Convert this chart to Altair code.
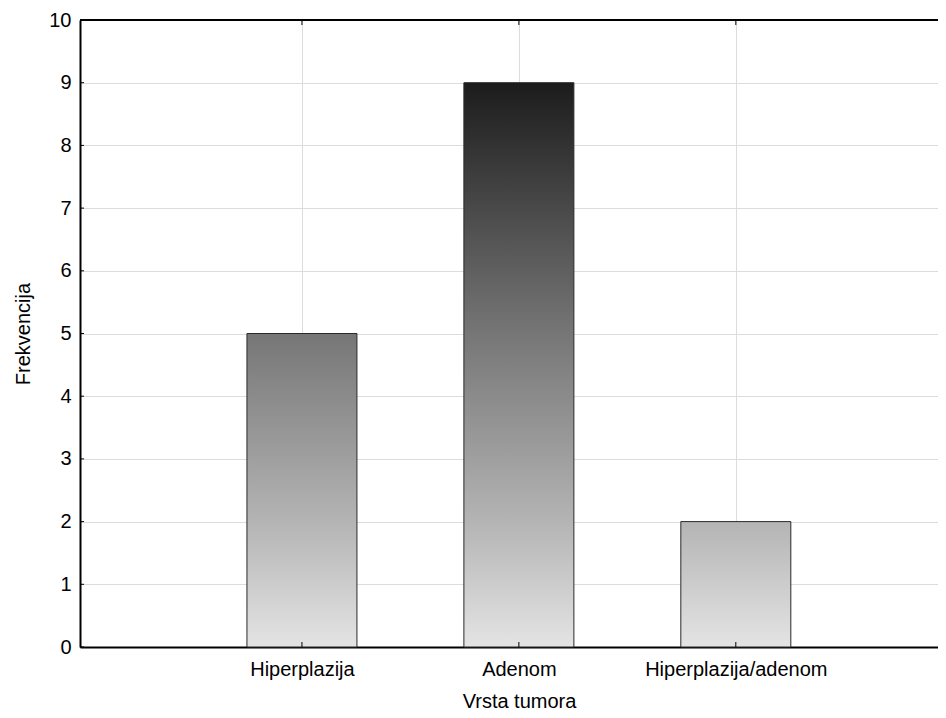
import json
import altair as alt
import pandas as pd

# ---- data ----
categories = ["Hiperplazija", "Adenom", "Hiperplazija/adenom"]
positions = [1, 2, 3]
frequencies = [5, 9, 2]
y_ticks = [0, 1, 2, 3, 4, 5, 6, 7, 8, 9, 10]

# gray ramp (absolute, shared by all bars): value -> gray level
ramp_values = [0, 2, 5, 9, 10]
ramp_grays = [228, 180, 118, 28, 12]

W, H = 858, 627
STEP = 219.5
FONT = "Liberation Sans"

df = pd.DataFrame({"cat": categories, "pos": positions, "freq": frequencies})
ticks_df = pd.DataFrame({"v": y_ticks})


def gray_at(v):
    for i in range(len(ramp_values) - 1):
        a, b = ramp_values[i], ramp_values[i + 1]
        if a <= v <= b:
            t = (v - a) / (b - a)
            g = ramp_grays[i] + t * (ramp_grays[i + 1] - ramp_grays[i])
            return int(round(g))
    return ramp_grays[-1]


def hexgray(g):
    return "#{0:02x}{0:02x}{0:02x}".format(g)


def gradient_for(v):
    stops = []
    for rv in ramp_values:
        if rv < v:
            stops.append(alt.GradientStop(offset=rv / v, color=hexgray(gray_at(rv))))
    stops.append(alt.GradientStop(offset=1, color=hexgray(gray_at(v))))
    return alt.LinearGradient(gradient="linear", stops=stops, x1=0, x2=0, y1=1, y2=0)


x_scale = alt.Scale(domain=[0, W / STEP], nice=False, zero=False)
y_scale = alt.Scale(domain=[0, 10], nice=False)

label_expr = json.dumps(categories) + "[round(datum.value) - 1]"

x_axis = alt.Axis(
    values=positions, labelExpr=label_expr, title="Vrsta tumora",
    grid=True, gridColor="#dcdcdc", gridWidth=1,
    ticks=False, tickSize=0,
    domain=True, domainColor="black", domainWidth=2,
    labelFont=FONT, labelFontSize=20, labelColor="black", labelLimit=0,
    labelPadding=28, labelBaseline="alphabetic", labelFlush=False, labelOverlap=False,
    titleFont=FONT, titleFontSize=20, titleFontWeight="normal", titleColor="black",
    titleX=2 * STEP, titleY=60, titleBaseline="alphabetic", titleAlign="center",
)
y_axis = alt.Axis(
    values=y_ticks, title="Frekvencija",
    grid=True, gridColor="#dcdcdc", gridWidth=1,
    ticks=False, tickSize=0,
    domain=True, domainColor="black", domainWidth=2,
    labelFont=FONT, labelFontSize=20, labelColor="black", labelPadding=9,
    labelFlush=False, labelOverlap=False,
    titleFont=FONT, titleFontSize=20, titleFontWeight="normal", titleColor="black",
    titleX=-51, titleY=H / 2, titleAngle=270, titleBaseline="alphabetic", titleAlign="center",
)

layers = []
for cat, val in zip(categories, frequencies):
    layers.append(
        alt.Chart(df)
        .transform_filter(alt.datum.cat == cat)
        .mark_bar(orient="vertical", size=110, fill=gradient_for(val),
                  stroke="#2a2a2a", strokeWidth=1)
        .encode(
            x=alt.X("pos:Q", scale=x_scale, axis=x_axis),
            y=alt.Y("freq:Q", scale=y_scale, axis=y_axis),
        )
    )

# inward ticks on the y axis
y_tick_marks = alt.Chart(ticks_df).mark_rule(color="black", strokeWidth=1).encode(
    y=alt.Y("v:Q", scale=y_scale, axis=y_axis),
    x=alt.value(0), x2=alt.value(4),
)
# inward ticks on the x axis (bottom and top)
x_tick_bottom = alt.Chart(df).mark_rule(color="black", strokeWidth=1).encode(
    x=alt.X("pos:Q", scale=x_scale, axis=x_axis),
    y=alt.value(H - 5), y2=alt.value(H),
)
x_tick_top = alt.Chart(df).mark_rule(color="black", strokeWidth=1).encode(
    x=alt.X("pos:Q", scale=x_scale, axis=x_axis),
    y=alt.value(0), y2=alt.value(5),
)
# top border
top_border = alt.Chart(df).mark_rule(color="black", strokeWidth=2).encode(
    y=alt.value(0), x=alt.value(0), x2=alt.value(W),
)

chart = (
    alt.layer(*layers, y_tick_marks, x_tick_bottom, x_tick_top, top_border)
    .properties(
        width=W, height=H,
        autosize=alt.AutoSizeParams(type="none"),
        padding={"left": 72, "top": 12, "right": 0, "bottom": 63},
        background="white",
    )
    .configure_view(stroke=None)
    .configure(font=FONT)
)

chart.save("out.html", embed_options={"renderer": "svg", "actions": False})
